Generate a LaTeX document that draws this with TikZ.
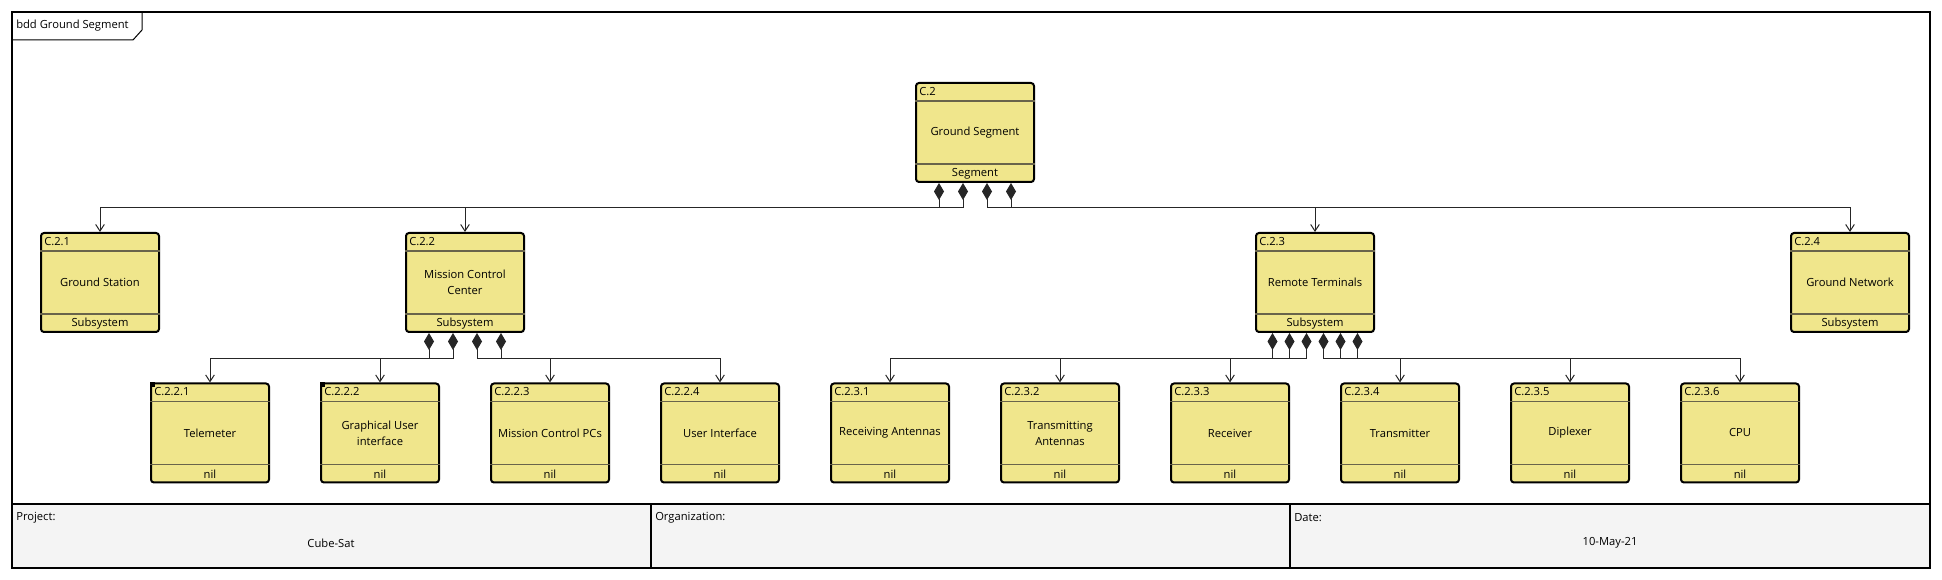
\documentclass[tikz,border=0pt]{standalone}
\usepackage{fontspec}
\setmainfont{Open Sans}
\usetikzlibrary{arrows.meta}
\usetikzlibrary{calc}
\usetikzlibrary{positioning}
\definecolor{blockfill}{RGB}{240,230,140}
\definecolor{compline}{RGB}{105,100,75}
\definecolor{tablefill}{RGB}{244,244,244}
\tikzset{block/.style = {draw, fill = blockfill, line width = 1.5pt, rounded corners = 2.25pt,
                         minimum width = 88.5pt, minimum height = 74.25pt, align = center}}
\tikzset{compart/.style = {draw = compline, line width = 1.1pt}}
\tikzset{compo/.style = {draw = black!85, line width = 0.75pt,
                         {Diamond[length = 12.75pt, width = 7.5pt]}-{Straight Barb[length = 5pt, width = 6.5pt]}}}
\tikzset{txt/.style = {font = \fontsize{8.4}{12}\selectfont, inner sep = 0}}

% block with id, name and stereotype compartments
\newcommand{\sysblock}[5]{%
  \node [block, txt] (#1) at #2 {#4};
  \draw [compart] ($(#1.north west) + (0, 19)$) -- ($(#1.north east) + (0, 19)$);
  \draw [compart] ($(#1.south west) + (0, -19)$) -- ($(#1.south east) + (0, -19)$);
  \node [txt, anchor = west] (#1-id) at ($(#1.north west) + (4, 9.5)$) {#3};
  \node [txt] (#1-st) at ($(#1.south) + (0, -9.5)$) {#5};
}

\begin{document}
\begin{tikzpicture}[x = 0.75pt, y = -0.75pt]
  \useasboundingbox (0, 0) rectangle (1942, 580);
  % frame and title block
  \fill [tablefill] (12, 504) rectangle (1930, 568);
  \draw [line width = 1.5pt] (12, 12) rectangle (1930, 568);
  \draw [line width = 1.5pt] (12, 504) -- (1930, 504);
  \draw [line width = 1.5pt] (651, 504) -- (651, 568);
  \draw [line width = 1.5pt] (1290, 504) -- (1290, 568);
  \draw [line width = 0.75pt] (142, 12) -- (142, 30) -- (133, 40) -- (12, 40);
  \node [txt, anchor = west] (title) at (16, 26) {bdd Ground Segment};
  \node [txt, anchor = west] (projlbl) at (16, 518) {Project:};
  \node [txt] (projval) at (331, 543) {Cube-Sat};
  \node [txt, anchor = west] (orglbl) at (655, 518) {Organization:};
  \node [txt, anchor = west] (datelbl) at (1294, 518) {Date:};
  \node [txt] (dateval) at (1610, 543) {10-May-21};

  % blocks
  \sysblock{gs}{(975, 132.5)}{C.2}{Ground Segment}{Segment}
  \sysblock{gst}{(100, 282.5)}{C.2.1}{Ground Station}{Subsystem}
  \sysblock{mcc}{(465, 282.5)}{C.2.2}{Mission Control\\Center}{Subsystem}
  \sysblock{rt}{(1315, 282.5)}{C.2.3}{Remote Terminals}{Subsystem}
  \sysblock{gn}{(1850, 282.5)}{C.2.4}{Ground Network}{Subsystem}
  \sysblock{tel}{(210, 433)}{C.2.2.1}{Telemeter}{nil}
  \sysblock{gui}{(380, 433)}{C.2.2.2}{Graphical User\\interface}{nil}
  \sysblock{mcpc}{(550, 433)}{C.2.2.3}{Mission Control PCs}{nil}
  \sysblock{ui}{(720, 433)}{C.2.2.4}{User Interface}{nil}
  \sysblock{rxa}{(890, 433)}{C.2.3.1}{Receiving Antennas}{nil}
  \sysblock{txa}{(1060, 433)}{C.2.3.2}{Transmitting\\Antennas}{nil}
  \sysblock{rx}{(1230, 433)}{C.2.3.3}{Receiver}{nil}
  \sysblock{tx}{(1400, 433)}{C.2.3.4}{Transmitter}{nil}
  \sysblock{dip}{(1570, 433)}{C.2.3.5}{Diplexer}{nil}
  \sysblock{cpu}{(1740, 433)}{C.2.3.6}{CPU}{nil}
  \fill ($(tel.north west) + (-0.5, -0.5)$) rectangle ++(5.5, 5.5);
  \fill ($(gui.north west) + (-0.5, -0.5)$) rectangle ++(5.5, 5.5);

  % composition connectors
  \foreach \dx/\tgt in {-36/gst, -12/mcc, 12/rt, 36/gn}
    \draw [compo] ($(gs.south) + (\dx, 0)$) -- ++(0, 25) -| (\tgt.north);
  \foreach \dx/\tgt in {-36/tel, -12/gui, 12/mcpc, 36/ui}
    \draw [compo] ($(mcc.south) + (\dx, 0)$) -- ++(0, 26) -| (\tgt.north);
  \foreach \dx/\tgt in {-42.5/rxa, -25.5/txa, -8.5/rx, 8.5/tx, 25.5/dip, 42.5/cpu}
    \draw [compo] ($(rt.south) + (\dx, 0)$) -- ++(0, 26) -| (\tgt.north);
\end{tikzpicture}
\end{document}
